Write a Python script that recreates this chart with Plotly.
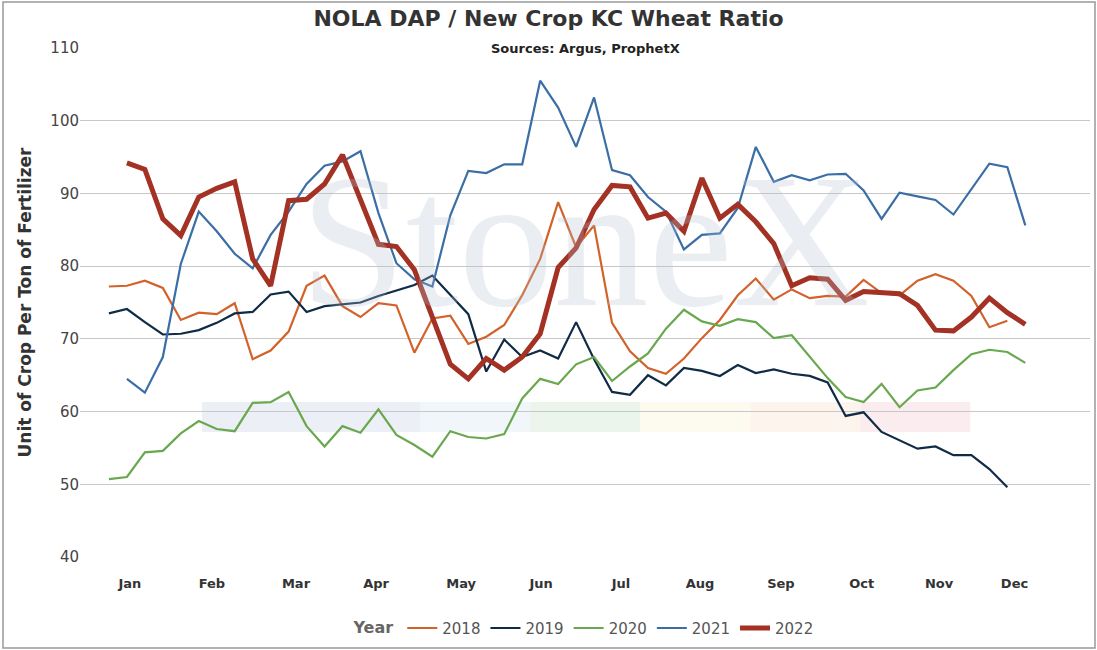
import plotly.graph_objects as go

months = ["Jan","Feb","Mar","Apr","May","Jun","Jul","Aug","Sep","Oct","Nov","Dec"]
month_pos = [1.17,5.73,10.41,14.87,19.6,24.05,28.5,32.9,37.4,41.9,46.2,50.4]

y2018 = [77.2,77.3,78,77,72.6,73.6,73.4,74.9,67.2,68.4,71,77.3,78.7,74.5,73,74.9,74.6,68.1,72.8,73.2,69.3,70.3,71.9,76,81,88.8,82.6,85.6,72.2,68.3,66,65.2,67.3,70.1,72.6,76,78.3,75.4,76.8,75.6,75.9,75.8,78.1,76.3,76,78,78.9,78,75.9,71.6,72.5]
y2019 = [73.5,74.1,72.3,70.6,70.7,71.2,72.2,73.5,73.7,76.1,76.5,73.7,74.5,74.7,75,75.9,76.7,77.4,78.7,76,73.4,65.5,69.9,67.5,68.4,67.3,72.3,67.2,62.7,62.3,65,63.6,66,65.6,64.9,66.4,65.3,65.8,65.2,64.9,64,59.4,59.9,57.2,56,54.9,55.2,54,54,52.1,49.6]
y2020 = [50.7,51,54.4,54.6,57,58.7,57.6,57.3,61.2,61.3,62.7,58,55.2,58,57.1,60.3,56.8,55.4,53.8,57.3,56.5,56.3,56.9,61.8,64.5,63.8,66.5,67.5,64.2,66.2,68,71.4,74,72.4,71.8,72.7,72.3,70.1,70.5,67.5,64.6,62,61.3,63.8,60.6,62.9,63.3,65.7,67.9,68.5,68.2,66.7]
y2021 = [64.5,62.6,67.5,80.3,87.5,84.8,81.7,79.7,84.3,87.5,91.3,93.8,94.4,95.8,87.3,80.4,78.2,77.2,87,93.1,92.8,94,94,105.5,101.8,96.4,103.2,93.2,92.5,89.5,87.5,82.3,84.3,84.5,88,96.4,91.6,92.5,91.8,92.6,92.7,90.4,86.5,90.1,89.6,89.1,87.1,90.6,94.1,93.6,85.6]
y2022 = [94.2,93.3,86.5,84.2,89.5,90.7,91.6,81,77.3,89,89.2,91.3,95.3,89,83,82.7,79.5,73,66.5,64.5,67.3,65.7,67.5,70.7,79.8,82.5,87.8,91.1,90.9,86.6,87.3,84.8,92.1,86.6,88.5,86.1,83.1,77.3,78.4,78.2,75.3,76.5,76.3,76.2,74.6,71.2,71.1,73,75.6,73.6,72]

series = [
    ("2018", 0, y2018, "#d2622a", 2.2),
    ("2019", 0, y2019, "#0f2b46", 2.2),
    ("2020", 0, y2020, "#6aa84f", 2.2),
    ("2021", 1, y2021, "#3a6ea5", 2.2),
    ("2022", 1, y2022, "#a33224", 5),
]

fig = go.Figure()
for name, start, ys, col, w in series:
    fig.add_trace(go.Scatter(x=list(range(start, start+len(ys))), y=ys, name=name,
                             mode="lines", line=dict(color=col, width=w)))

band_cols = ["rgba(200,210,225,0.35)","rgba(215,230,240,0.35)","rgba(200,225,200,0.35)",
             "rgba(250,245,215,0.4)","rgba(250,230,210,0.4)","rgba(245,210,215,0.4)"]
edges = [202,420,530,640,750,860,970]
shapes = []
for i, c in enumerate(band_cols):
    shapes.append(dict(type="rect", xref="x", yref="y", layer="below",
                       x0=(edges[i]-109)/17.96, x1=(edges[i+1]-109)/17.96, y0=57.2, y1=61.3,
                       fillcolor=c, line=dict(width=0)))
shapes.append(dict(type="rect", xref="paper", yref="paper", x0=-77/1010, x1=1+5/1010,
                   y0=-91/509, y1=1+46/509, line=dict(color="#999", width=1.5)))

fig.update_layout(
    width=1097, height=650, plot_bgcolor="white", paper_bgcolor="white",
    margin=dict(l=80, r=7, t=48, b=93, autoexpand=False),
    font=dict(family="DejaVu Sans", color="#333"),
    title=dict(text="<b>NOLA DAP / New Crop KC Wheat Ratio</b>", x=0.5, xanchor="center",
               y=0.972, yanchor="middle", font=dict(size=22, color="#333")),
    xaxis=dict(range=[-1.61, 54.6], tickvals=month_pos, ticktext=["<b>%s</b>" % m for m in months],
               showgrid=False, zeroline=False, tickfont=dict(size=13, color="#333"),
               ticks="outside", ticklen=14, tickcolor="rgba(0,0,0,0)", showline=False, automargin=False),
    yaxis=dict(range=[40, 110], dtick=10, gridcolor="#c8c8c8", zeroline=False, automargin=False,
               tickfont=dict(size=15, color="#444"),
               title=dict(text="<b>Unit of Crop Per Ton of Fertilizer</b>", font=dict(size=17, color="#333"), standoff=14)),
    legend=dict(orientation="h", x=0.5, xanchor="center", y=-0.14, yanchor="middle",
                title=dict(text="<b>Year</b>", font=dict(size=16, color="#666")),
                font=dict(size=15, color="#555")),
    shapes=shapes,
    annotations=[
        dict(text="<b>Sources: Argus, ProphetX</b>", xref="paper", yref="paper", x=0.5, y=1.0,
             yanchor="middle", showarrow=False, font=dict(size=13, color="#222")),
        dict(text="StoneX", xref="paper", yref="paper", x=0.5, y=0.62, showarrow=False,
             font=dict(size=190, family="Liberation Serif", color="rgba(180,190,205,0.28)")),
    ],
)
fig.write_html("out.html", post_script="document.body.style.margin='0';",
               config={"displayModeBar": False})
